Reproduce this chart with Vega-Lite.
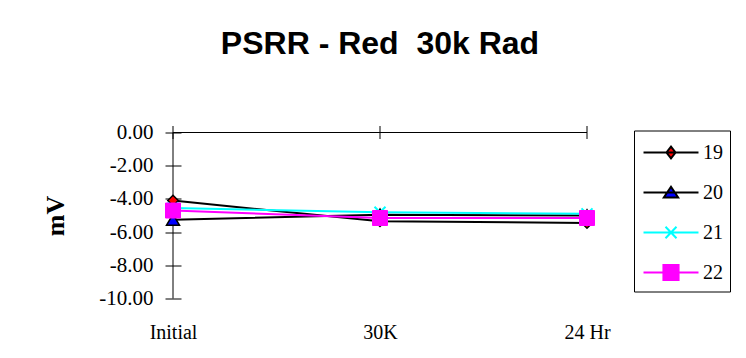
{
  "$schema": "https://vega.github.io/schema/vega-lite/v6.json",
  "width": 414,
  "height": 166,
  "autosize": {"type": "none"},
  "padding": {"left": 173, "top": 132.5, "right": 159, "bottom": 59.5},
  "background": "white",
  "title": {
    "text": "PSRR - Red \u00a030k Rad",
    "font": "Liberation Sans",
    "fontWeight": "bold",
    "fontSize": 32,
    "color": "black",
    "anchor": "middle",
    "baseline": "alphabetic",
    "offset": 36
  },
  "config": {
    "view": {"stroke": null},
    "axis": {"labelOverlap": false, "grid": false},
    "axisX": {
      "orient": "bottom", "domain": false, "ticks": false, "tickSize": 0,
      "labelAngle": 0, "labelFont": "Liberation Serif", "labelFontSize": 20,
      "labelColor": "black", "labelBaseline": "alphabetic", "labelPadding": 40,
      "title": null
    },
    "axisY": {
      "orient": "left", "offset": -8, "tickSize": 16, "domain": false,
      "tickColor": "black", "tickWidth": 1,
      "labelOverlap": false,
      "labelFont": "Liberation Serif", "labelFontSize": 21, "labelColor": "black",
      "labelPadding": 12,
      "titleFont": "Liberation Serif", "titleFontSize": 26,
      "titleFontWeight": "bold", "titleColor": "black", "titlePadding": 30
    }
  },
  "data": {
    "values": [
      {"t": "Initial", "series": "19", "v": -4.1},
      {"t": "30K", "series": "19", "v": -5.35},
      {"t": "24 Hr", "series": "19", "v": -5.45},
      {"t": "Initial", "series": "20", "v": -5.25},
      {"t": "30K", "series": "20", "v": -4.95},
      {"t": "24 Hr", "series": "20", "v": -5.0},
      {"t": "Initial", "series": "21", "v": -4.55},
      {"t": "30K", "series": "21", "v": -4.8},
      {"t": "24 Hr", "series": "21", "v": -4.9},
      {"t": "Initial", "series": "22", "v": -4.7},
      {"t": "30K", "series": "22", "v": -5.15},
      {"t": "24 Hr", "series": "22", "v": -5.15}
    ]
  },
  "layer": [
    {
      "mark": {"type": "point", "filled": true, "opacity": 0},
      "encoding": {
        "x": {
          "field": "t", "type": "nominal", "sort": ["Initial", "30K", "24 Hr"],
          "scale": {"type": "point", "domain": ["Initial", "30K", "24 Hr"], "padding": 0},
          "axis": {"title": null}
        },
        "y": {
          "field": "v", "type": "quantitative",
          "scale": {"domain": [-10, 0], "nice": false, "zero": false},
          "axis": {"values": [0, -2, -4, -6, -8, -10], "labelExpr": "replace(format(datum.value, '.2f'), '\u2212', '-')", "labelOverlap": false, "labelBound": false, "title": "mV"}
        },
        "shape": {
          "field": "series", "type": "nominal",
          "scale": {
            "domain": ["19", "20", "21", "22"],
            "range": [
              "M-2,0H2M0,-0.42L0.33,0L0,0.42L-0.33,0Z",
              "M-2,0H2M0,-0.42L0.52,0.36L-0.52,0.36Z",
              "M-2,0H2M-0.4,-0.42L0.4,0.42M-0.4,0.42L0.4,-0.42",
              "M-2,0H2M-0.55,-0.55H0.55V0.55H-0.55Z"
            ]
          },
          "legend": {
            "title": null, "orient": "none", "legendX": 461, "legendY": -2,
            "strokeColor": "black", "padding": 7, "symbolSize": 756,
            "symbolStrokeWidth": 2, "symbolOffset": 15, "rowPadding": 15,
            "labelFont": "Liberation Serif", "labelFontSize": 20, "labelColor": "black",
            "labelOffset": 17, "symbolOpacity": 1,
            "encode": {"symbols": {"update": {"opacity": {"value": 1}}}}
          }
        },
        "fill": {
          "field": "series", "type": "nominal",
          "scale": {"domain": ["19", "20", "21", "22"], "range": ["#FF0000", "#0000FF", "#00FFFF", "#FF00FF"]},
          "legend": {
            "title": null, "orient": "none", "legendX": 461, "legendY": -2,
            "strokeColor": "black", "padding": 7, "symbolSize": 756,
            "symbolStrokeWidth": 2, "symbolOffset": 15, "rowPadding": 15,
            "labelFont": "Liberation Serif", "labelFontSize": 20, "labelColor": "black",
            "labelOffset": 17, "symbolOpacity": 1,
            "encode": {"symbols": {"update": {"opacity": {"value": 1}}}}
          }
        },
        "stroke": {
          "field": "series", "type": "nominal",
          "scale": {"domain": ["19", "20", "21", "22"], "range": ["#000000", "#000000", "#00FFFF", "#FF00FF"]},
          "legend": {
            "title": null, "orient": "none", "legendX": 461, "legendY": -2,
            "strokeColor": "black", "padding": 7, "symbolSize": 756,
            "symbolStrokeWidth": 2, "symbolOffset": 15, "rowPadding": 15,
            "labelFont": "Liberation Serif", "labelFontSize": 20, "labelColor": "black",
            "labelOffset": 17, "symbolOpacity": 1,
            "encode": {"symbols": {"update": {"opacity": {"value": 1}}}}
          }
        }
      }
    },
    {
      "data": {"values": [{}]},
      "mark": {"type": "rule", "color": "black", "strokeWidth": 1},
      "encoding": {
        "x": {"datum": "Initial", "type": "nominal", "axis": {"title": null}},
        "x2": {"datum": "24 Hr"},
        "y": {"datum": 0, "type": "quantitative", "axis": {"values": [0, -2, -4, -6, -8, -10], "labelExpr": "replace(format(datum.value, '.2f'), '\u2212', '-')", "labelOverlap": false, "labelBound": false, "title": "mV"}}
      }
    },
    {
      "data": {"values": [{}]},
      "mark": {"type": "rule", "color": "black", "strokeWidth": 1},
      "encoding": {
        "x": {"datum": "Initial", "type": "nominal", "axis": {"title": null}},
        "y": {"datum": 0, "type": "quantitative", "axis": {"values": [0, -2, -4, -6, -8, -10], "labelExpr": "replace(format(datum.value, '.2f'), '\u2212', '-')", "labelOverlap": false, "labelBound": false, "title": "mV"}},
        "y2": {"datum": -10}
      }
    },
    {
      "transform": [{"filter": "datum.series == '19'"}],
      "mark": {"type": "tick", "orient": "vertical", "size": 13, "thickness": 1, "color": "black", "opacity": 1},
      "encoding": {
        "x": {"field": "t", "type": "nominal", "axis": {"title": null}},
        "y": {"datum": 0, "type": "quantitative", "axis": {"values": [0, -2, -4, -6, -8, -10], "labelExpr": "replace(format(datum.value, '.2f'), '\u2212', '-')", "labelOverlap": false, "labelBound": false, "title": "mV"}}
      }
    },
    {
      "mark": {"type": "line", "strokeWidth": 2},
      "encoding": {
        "x": {"field": "t", "type": "nominal", "axis": {"title": null}},
        "y": {"field": "v", "type": "quantitative", "axis": {"values": [0, -2, -4, -6, -8, -10], "labelExpr": "replace(format(datum.value, '.2f'), '\u2212', '-')", "labelOverlap": false, "labelBound": false, "title": "mV"}},
        "color": {
          "field": "series", "type": "nominal",
          "scale": {"domain": ["19", "20", "21", "22"], "range": ["#000000", "#000000", "#00FFFF", "#FF00FF"]},
          "legend": null
        }
      }
    },
    {
      "transform": [{"filter": "datum.series == '19'"}],
      "mark": {"type": "point", "shape": "diamond", "size": 110, "filled": true, "fill": "#FF0000", "stroke": "#000000", "strokeWidth": 1.5, "opacity": 1},
      "encoding": {
        "x": {"field": "t", "type": "nominal", "axis": {"title": null}},
        "y": {"field": "v", "type": "quantitative", "axis": {"values": [0, -2, -4, -6, -8, -10], "labelExpr": "replace(format(datum.value, '.2f'), '\u2212', '-')", "labelOverlap": false, "labelBound": false, "title": "mV"}}
      }
    },
    {
      "transform": [{"filter": "datum.series == '20'"}],
      "mark": {"type": "point", "shape": "triangle-up", "size": 170, "filled": true, "fill": "#0000FF", "stroke": "#000000", "strokeWidth": 1.5, "opacity": 1},
      "encoding": {
        "x": {"field": "t", "type": "nominal", "axis": {"title": null}},
        "y": {"field": "v", "type": "quantitative", "axis": {"values": [0, -2, -4, -6, -8, -10], "labelExpr": "replace(format(datum.value, '.2f'), '\u2212', '-')", "labelOverlap": false, "labelBound": false, "title": "mV"}}
      }
    },
    {
      "transform": [{"filter": "datum.series == '21'"}],
      "mark": {"type": "point", "shape": "M-1,-1L1,1M-1,1L1,-1", "size": 121, "filled": false, "stroke": "#00FFFF", "strokeWidth": 2, "opacity": 1},
      "encoding": {
        "x": {"field": "t", "type": "nominal", "axis": {"title": null}},
        "y": {"field": "v", "type": "quantitative", "axis": {"values": [0, -2, -4, -6, -8, -10], "labelExpr": "replace(format(datum.value, '.2f'), '\u2212', '-')", "labelOverlap": false, "labelBound": false, "title": "mV"}}
      }
    },
    {
      "transform": [{"filter": "datum.series == '22'"}],
      "mark": {"type": "point", "shape": "square", "size": 225, "filled": true, "fill": "#FF00FF", "stroke": "#FF00FF", "strokeWidth": 1, "opacity": 1},
      "encoding": {
        "x": {"field": "t", "type": "nominal", "axis": {"title": null}},
        "y": {"field": "v", "type": "quantitative", "axis": {"values": [0, -2, -4, -6, -8, -10], "labelExpr": "replace(format(datum.value, '.2f'), '\u2212', '-')", "labelOverlap": false, "labelBound": false, "title": "mV"}}
      }
    }
  ]
}
